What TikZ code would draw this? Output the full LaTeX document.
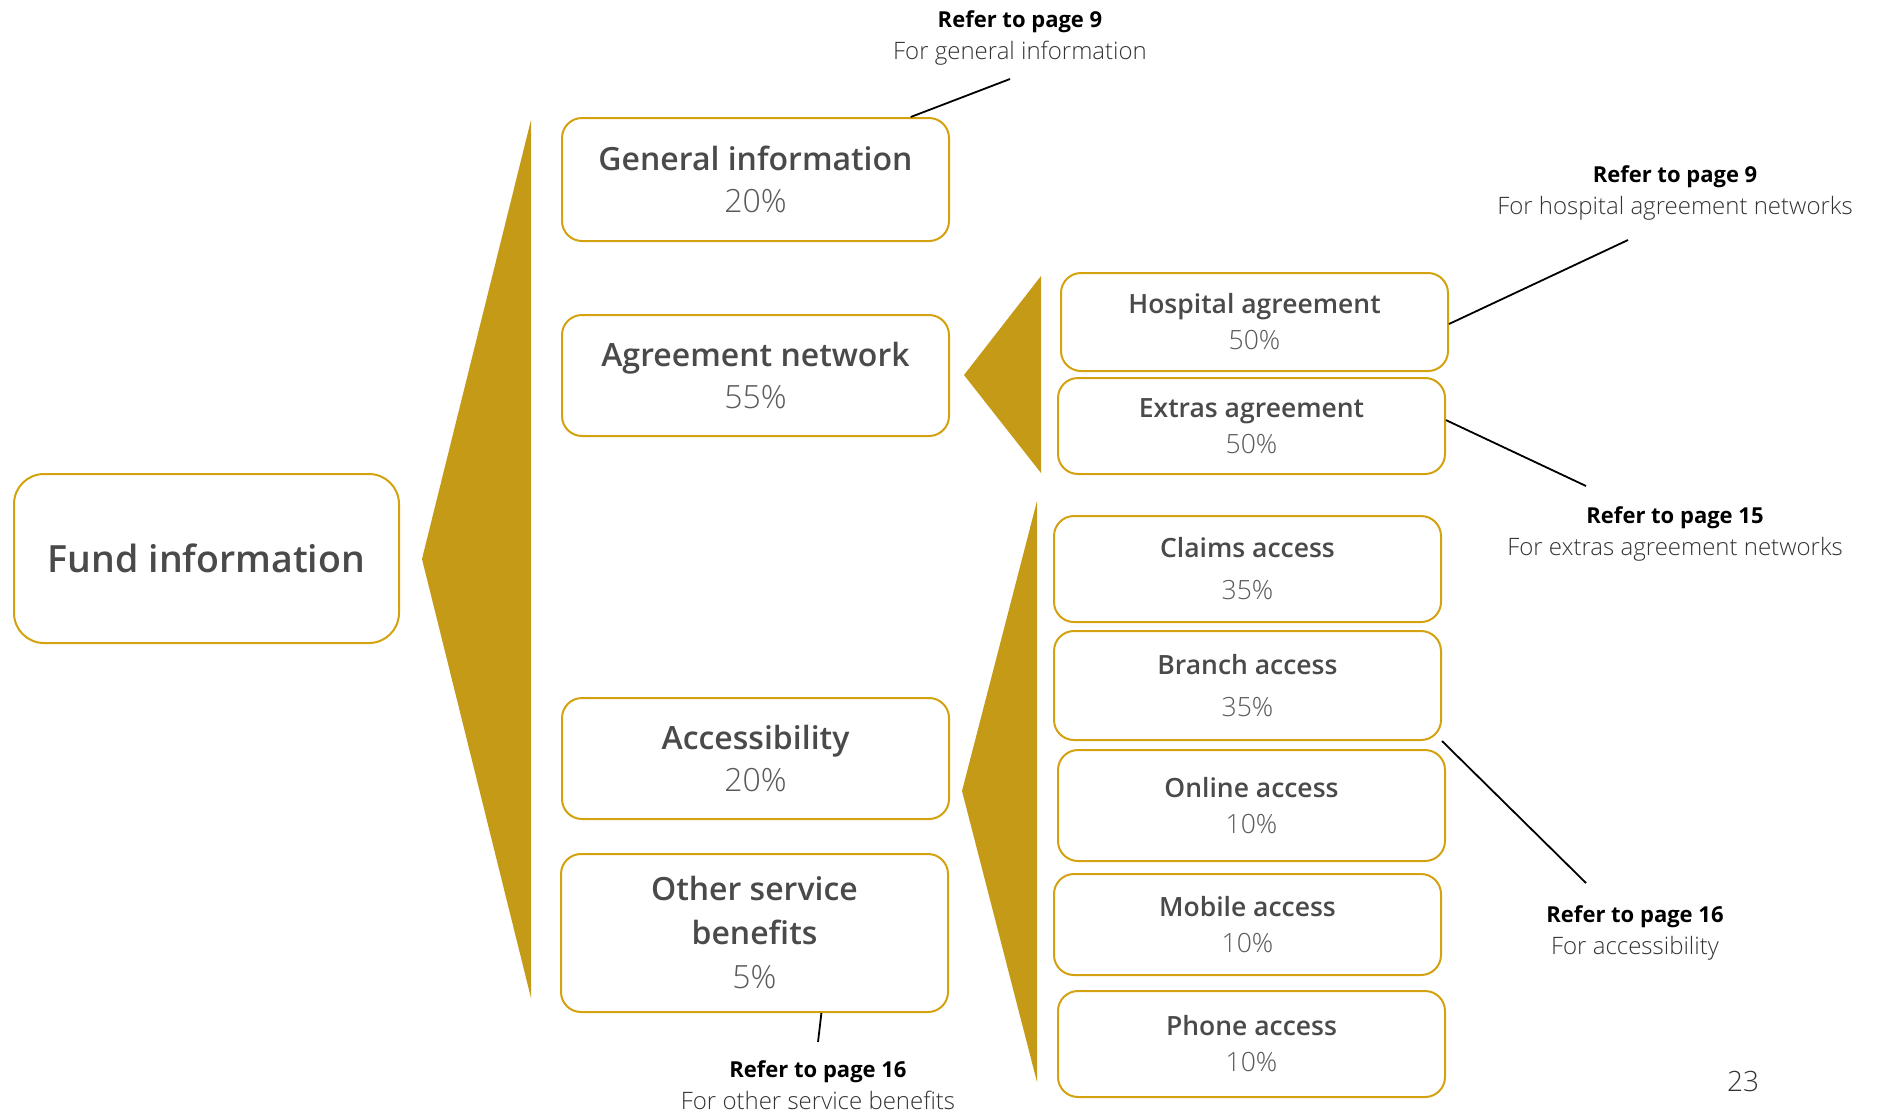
\documentclass[tikz,border=0pt]{standalone}
\usepackage{fontspec}
\setmainfont{Open Sans}
\newfontfamily\semibold{Open Sans Semibold}
\newfontfamily\light{Open Sans Light}
\usetikzlibrary{calc}
\definecolor{gold}{HTML}{C49A17}
\definecolor{goldline}{HTML}{D4A20F}
\definecolor{ink}{HTML}{4A4A4A}
\definecolor{pct}{HTML}{5A5A5A}
\definecolor{note}{HTML}{333333}

\tikzset{
  catbox/.style={draw=goldline, line width=2pt, rounded corners=20pt, fill=white,
    align=center, inner sep=0pt, text=ink,
    font=\semibold\fontsize{32}{42}\selectfont},
  subbox/.style={catbox, font=\semibold\fontsize{26.5}{36}\selectfont},
  wedge/.style={fill=gold, draw=none},
  callout/.style={align=center, inner sep=0pt, text=black,
    font=\fontsize{22}{32}\selectfont},
  leader/.style={draw=black, line width=1.8pt},
}
\newcommand{\pc}[1]{{\light\color{pct}#1}}
\newcommand{\refnote}[2]{{\bfseries #1}\\{\light\fontsize{24}{32}\selectfont\color{note}#2}}

\begin{document}
\begin{tikzpicture}[x=1pt,y=-1pt]
\useasboundingbox (0,0) rectangle (1879,1114);

% wedges fanning out from each parent
\fill[wedge] (422,559) -- (531,120) -- (531,998) -- cycle;
\fill[wedge] (964,375) -- (1041,276) -- (1041,473) -- cycle;
\fill[wedge] (962,791) -- (1037,501) -- (1037,1082) -- cycle;

% root
\node[catbox, rounded corners=30pt, minimum width=385pt, minimum height=169pt,
  font=\semibold\fontsize{37.5}{44}\selectfont] (fund) at (206.5,558.5) {Fund information};

% first level
\node[catbox, minimum width=387pt, minimum height=123pt] (gen) at (755.5,179.5)
  {General information\\\pc{20\%}};
\node[catbox, minimum width=387pt, minimum height=121pt] (agr) at (755.5,375.5)
  {Agreement network\\\pc{55\%}};
\node[catbox, minimum width=387pt, minimum height=121pt] (acc) at (755.5,758.5)
  {Accessibility\\\pc{20\%}};
\node[catbox, minimum width=387pt, minimum height=158pt,
  font=\semibold\fontsize{32}{44}\selectfont] (oth) at (754.5,933)
  {Other service\\benefits\\\pc{5\%}};

% agreement network split
\node[subbox, minimum width=387pt, minimum height=98pt] (hosp) at (1254.5,322)
  {Hospital agreement\\\pc{50\%}};
\node[subbox, minimum width=387pt, minimum height=96pt] (extr) at (1251.5,426)
  {Extras agreement\\\pc{50\%}};

% accessibility split
\node[subbox, minimum width=387pt, minimum height=106pt,
  font=\semibold\fontsize{26.5}{42}\selectfont] (claim) at (1247.5,569)
  {Claims access\\\pc{35\%}};
\node[subbox, minimum width=387pt, minimum height=109pt,
  font=\semibold\fontsize{26.5}{42}\selectfont] (branch) at (1247.5,685.5)
  {Branch access\\\pc{35\%}};
\node[subbox, minimum width=387pt, minimum height=111pt] (online) at (1251.5,805.5)
  {Online access\\\pc{10\%}};
\node[subbox, minimum width=387pt, minimum height=101pt] (mobile) at (1247.5,924.5)
  {Mobile access\\\pc{10\%}};
\node[subbox, minimum width=387pt, minimum height=106pt] (phone) at (1251.5,1044)
  {Phone access\\\pc{10\%}};

% page references
\node[callout] (n1) at (1020,38) {\refnote{Refer to page 9}{For general information}};
\node[callout] (n2) at (1675,193) {\refnote{Refer to page 9}{For hospital agreement networks}};
\node[callout] (n3) at (1675,534) {\refnote{Refer to page 15}{For extras agreement networks}};
\node[callout] (n4) at (1635,933) {\refnote{Refer to page 16}{For accessibility}};
\node[callout] (n5) at (818,1085) {\refnote{Refer to page 16}{For other service benefits}};

\coordinate (e1) at (1010,79);
\coordinate (e2) at (1628,240);
\coordinate (e3) at (1586,486);
\coordinate (e4) at (1586,883);
\coordinate (e5) at (818,1042);

\draw[leader] (e1) -- ($(gen.north west)!0.899!(gen.north east)$);
\draw[leader] (e2) -- ($(hosp.north east)!0.52!(hosp.south east)$);
\draw[leader] (e3) -- ($(extr.north east)!0.44!(extr.south east)$);
\draw[leader] (e4) -- (branch.south east);
\draw[leader] (e5) -- ($(oth.south west)!0.672!(oth.south east)$);

% page number
\node[inner sep=0pt, font=\light\fontsize{28}{32}\selectfont, text=note] (pg) at (1743,1081) {23};
\end{tikzpicture}
\end{document}
